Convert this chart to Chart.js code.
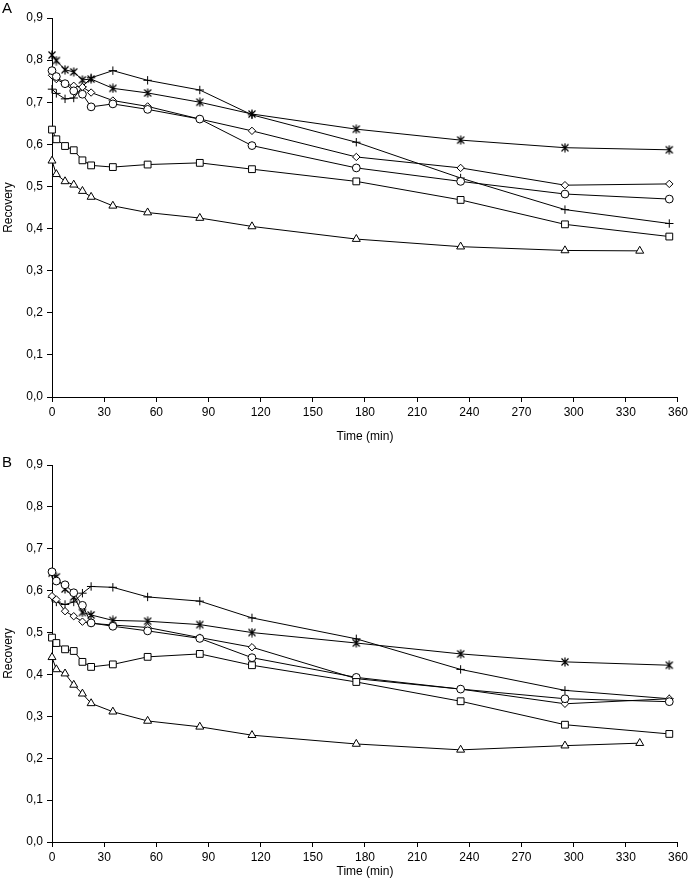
<!DOCTYPE html>
<html lang="en">
<head>
<meta charset="UTF-8" />
<title>Recovery over time</title>
<script src="https://cdn.jsdelivr.net/npm/chart.js@4"></script>
<style>
  body { margin: 0; background: #fff; }
  canvas { display: block; }
</style>
</head>
<body>
<canvas id="chartA" width="691" height="452"></canvas>
<canvas id="chartB" width="691" height="429"></canvas>
<script>
// sampling times (min); the triangle series stops earlier
const times = [0, 2.5, 7.5, 12.5, 17.5, 22.5, 35, 55, 85, 115, 175, 235, 295, 355];
const timesTriangle = [0, 2.5, 7.5, 12.5, 17.5, 22.5, 35, 55, 85, 115, 175, 235, 295, 338];

const yTickLabels = ["0,0", "0,1", "0,2", "0,3", "0,4", "0,5", "0,6", "0,7", "0,8", "0,9"];
const xTickLabels = ["0", "30", "60", "90", "120", "150", "180", "210", "240", "270", "300", "330", "360"];

// panel A
const starA     = [0.812, 0.799, 0.777, 0.772, 0.753, 0.755, 0.733, 0.722, 0.700, 0.672, 0.636, 0.610, 0.592, 0.587];
const plusA     = [0.731, 0.721, 0.708, 0.710, 0.737, 0.758, 0.775, 0.752, 0.729, 0.670, 0.605, 0.520, 0.445, 0.412];
const diamondA  = [0.764, 0.755, 0.743, 0.739, 0.736, 0.723, 0.704, 0.690, 0.660, 0.632, 0.570, 0.544, 0.503, 0.506];
const circleA   = [0.775, 0.761, 0.744, 0.727, 0.719, 0.689, 0.696, 0.683, 0.660, 0.597, 0.544, 0.512, 0.482, 0.470];
const squareA   = [0.635, 0.612, 0.596, 0.586, 0.562, 0.550, 0.546, 0.552, 0.556, 0.541, 0.512, 0.468, 0.410, 0.381];
const triangleA = [0.561, 0.529, 0.512, 0.504, 0.489, 0.475, 0.454, 0.438, 0.425, 0.405, 0.375, 0.357, 0.348, 0.347];

// panel B
const starB     = [0.642, 0.633, 0.604, 0.585, 0.548, 0.542, 0.529, 0.527, 0.519, 0.500, 0.475, 0.449, 0.430, 0.422];
const plusB     = [0.584, 0.573, 0.567, 0.573, 0.594, 0.610, 0.608, 0.585, 0.575, 0.535, 0.485, 0.412, 0.362, 0.342];
const diamondB  = [0.587, 0.579, 0.551, 0.539, 0.526, 0.522, 0.518, 0.512, 0.488, 0.465, 0.390, 0.365, 0.330, 0.342];
const circleB   = [0.645, 0.623, 0.614, 0.595, 0.565, 0.523, 0.515, 0.504, 0.486, 0.440, 0.393, 0.365, 0.342, 0.335];
const squareB   = [0.488, 0.475, 0.460, 0.456, 0.430, 0.418, 0.424, 0.442, 0.449, 0.422, 0.382, 0.336, 0.280, 0.258];
const triangleB = [0.441, 0.412, 0.402, 0.375, 0.354, 0.331, 0.311, 0.289, 0.275, 0.255, 0.234, 0.220, 0.230, 0.236];

const FONT = 'Arial, "Liberation Sans", sans-serif';

// excel style asterisk marker: an x with a vertical bar
function makeStar(r) {
    const c = document.createElement("canvas");
    const s = 2 * r + 3;
    c.width = s;
    c.height = s;
    const g = c.getContext("2d");
    const m = s / 2;
    g.strokeStyle = "#000";
    g.lineWidth = 1.2;
    g.beginPath();
    g.moveTo(m - r, m - r); g.lineTo(m + r, m + r);
    g.moveTo(m + r, m - r); g.lineTo(m - r, m + r);
    g.moveTo(m, m - r - 1); g.lineTo(m, m + r + 1);
    g.stroke();
    return c;
}
const starMarker = makeStar(3.5);

const panelLabel = {
    id: "panelLabel",
    afterDraw(chart, args, opts) {
        const ctx = chart.ctx;
        ctx.save();
        ctx.font = "15px " + FONT;
        ctx.fillStyle = "#000";
        ctx.textBaseline = "middle";
        ctx.fillText(opts.text, opts.x, opts.y);
        ctx.restore();
    },
};
Chart.register(panelLabel);

function series(xs, ys, style, radius) {
    return {
        data: xs.map((x, i) => ({ x: x, y: ys[i] })),
        borderColor: "#000",
        borderWidth: 1,
        pointStyle: style,
        pointRadius: radius,
        pointHoverRadius: radius,
        pointBackgroundColor: "#fff",
        pointBorderColor: "#000",
        pointBorderWidth: 1,
        tension: 0,
        fill: false,
        clip: false,
    };
}

function makeConfig(d, label, padTop, xHeight, titlePad) {
    return {
        type: "line",
        data: {
            datasets: [
                series(timesTriangle, d.triangle, "triangle", 4.6),
                series(times, d.square, "rect", 4.8),
                series(times, d.circle, "circle", 3.9),
                series(times, d.diamond, "rectRot", 3.7),
                series(times, d.plus, "cross", 4.2),
                series(times, d.star, starMarker, 4),
            ],
        },
        options: {
            responsive: false,
            animation: false,
            layout: { padding: { top: padTop, right: 12, bottom: 0, left: 0 } },
            plugins: {
                legend: { display: false },
                tooltip: { enabled: false },
                panelLabel: label,
            },
            scales: {
                x: {
                    type: "linear",
                    min: 0,
                    max: 360,
                    afterFit(scale) { scale.height = xHeight; },
                    ticks: {
                        stepSize: 30,
                        color: "#000",
                        font: { family: FONT, size: 12 },
                        padding: 3,
                        maxRotation: 0,
                        callback: (v) => xTickLabels[Math.round(v / 30)],
                    },
                    grid: { drawOnChartArea: false, tickLength: 5, color: "#000" },
                    border: { color: "#000", width: 1 },
                    title: {
                        display: true,
                        text: "Time (min)",
                        color: "#000",
                        font: { family: FONT, size: 12 },
                        padding: { top: 0, bottom: titlePad },
                    },
                },
                y: {
                    min: 0,
                    max: 0.9,
                    afterFit(scale) { scale.width = 52; },
                    ticks: {
                        stepSize: 0.1,
                        color: "#000",
                        font: { family: FONT, size: 12 },
                        padding: 4,
                        callback: (v) => yTickLabels[Math.round(v * 10)],
                    },
                    grid: { drawOnChartArea: false, tickLength: 5, color: "#000" },
                    border: { color: "#000", width: 1 },
                    title: {
                        display: true,
                        text: "Recovery",
                        color: "#000",
                        font: { family: FONT, size: 12 },
                        padding: { top: 1, bottom: 0 },
                    },
                },
            },
        },
    };
}

const chartA = new Chart(
    document.getElementById("chartA"),
    makeConfig(
        { star: starA, plus: plusA, diamond: diamondA, circle: circleA, square: squareA, triangle: triangleA },
        { text: "A", x: 2, y: 9 },
        18, 55, 8
    )
);

const chartB = new Chart(
    document.getElementById("chartB"),
    makeConfig(
        { star: starB, plus: plusB, diamond: diamondB, circle: circleB, square: squareB, triangle: triangleB },
        { text: "B", x: 2, y: 11 },
        13, 39, 2
    )
);
</script>
</body>
</html>
